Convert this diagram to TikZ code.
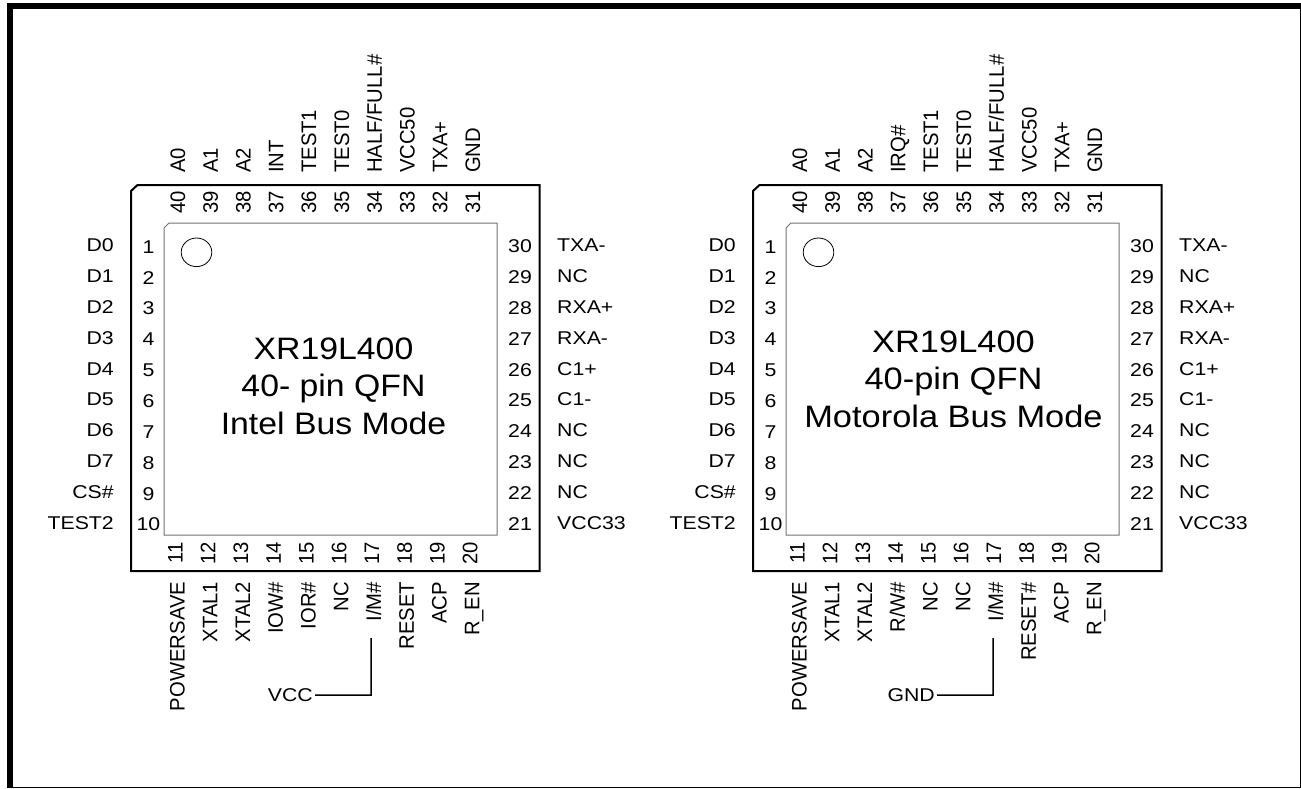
\documentclass[tikz,border=0pt]{standalone}
\usepackage{fontspec}
\setmainfont{Liberation Sans}
\usetikzlibrary{positioning}

\tikzset{
    pinhoriz/.style = {inner sep=0pt, font=\fontsize{18.5}{20}\selectfont, xscale=1.15, transform shape},
    pinvert/.style = {inner sep=0pt, font=\fontsize{21}{22}\selectfont, rotate=90, xscale=0.965, transform shape},
    chiptitle/.style = {inner sep=0pt, align=center, font=\fontsize{31}{37.5}\selectfont, transform shape},
    outline/.style = {draw, line width=2pt},
    padline/.style = {draw=black!55, line width=1pt}
}

\newcommand{\qfnchip}[7]{
    \begin{scope}[xshift=#1pt, name prefix=#2-]
        \draw [outline] (131,191) -- (137.5,185) -- (539.5,185) -- (539.5,571) -- (131,571) -- cycle;
        \draw [padline] (164,228) -- (169,223) -- (497,223) -- (497,535) -- (164,535) -- cycle;
        \draw [line width=0.8pt] (196.5,252.3) ellipse [x radius=15.3, y radius=14.3];
        \foreach \n/\t [evaluate=\n as \px using {185+32.8*(40-\n)}] in {#3} {
            \node [pinvert, anchor=base] (pin\n) at (\px,202.5) {\n};
            \node [pinvert, anchor=base west] (sig\n) at (\px,173) {\t};
        }
        \foreach \n/\t [evaluate=\n as \px using {184.5+32.75*(\n-11)}] in {#4} {
            \node [pinvert, anchor=base] (pin\n) at (\px-2,553) {\n};
            \node [pinvert, anchor=base east] (sig\n) at (\px,581.7) {\t};
        }
        \foreach \n/\t [evaluate=\n as \py using {251.7+30.85*(\n-1)}] in
            {1/D0,2/D1,3/D2,4/D3,5/D4,6/D5,7/D6,8/D7,9/CS\#,10/TEST2} {
            \node [pinhoriz, anchor=base] (pin\n) at (148.5,\py+1.5) {\n};
            \node [pinhoriz, anchor=base east] (sig\n) at (114,\py) {\t};
        }
        \foreach \n/\t [evaluate=\n as \py using {251.7+30.85*(30-\n)}] in
            {30/TXA-,29/NC,28/RXA+,27/RXA-,26/C1+,25/C1-,24/NC,23/NC,22/NC,21/VCC33} {
            \node [pinhoriz, anchor=base] (pin\n) at (520,\py+1) {\n};
            \node [pinhoriz, anchor=base west] (sig\n) at (557,\py) {\t};
        }
        \node [chiptitle, #5] (title) {#6};
        \coordinate (tiebend) at (371,695);
        \coordinate (tietop) at (371,638);
        \node [pinhoriz, anchor=base east] (tie) at (313,701.5) {#7};
        \draw [line width=1.5pt] (tie.east) ++(2,0) -- (tiebend) -- (tietop);
    \end{scope}
}

\begin{document}
\begin{tikzpicture}[x=1pt, y=-1pt]
    \useasboundingbox (0,0) rectangle (1301,788);
    \fill [white] (0,0) rectangle (1301,788);
    \draw [line width=5.5pt] (10,788) -- (10,6) -- (1301,6);
    \draw [line width=1pt] (7,787.3) -- (1300,787.3) -- (1300,6);
    \qfnchip{0}{intel}
        {40/A0,39/A1,38/A2,37/INT,36/TEST1,35/TEST0,34/{HALF/FULL\#},33/VCC50,32/TXA+,31/GND}
        {11/POWERSAVE,12/XTAL1,13/XTAL2,14/IOW\#,15/IOR\#,16/NC,17/{I/M\#},18/RESET,19/ACP,20/R\_EN}
        {xscale=1.09, at={(333.5,386)}}{XR19L400\\40- pin QFN\\Intel Bus Mode}{VCC}
    \qfnchip{622}{moto}
        {40/A0,39/A1,38/A2,37/IRQ\#,36/TEST1,35/TEST0,34/{HALF/FULL\#},33/VCC50,32/TXA+,31/GND}
        {11/POWERSAVE,12/XTAL1,13/XTAL2,14/{R/W\#},15/NC,16/NC,17/{I/M\#},18/RESET\#,19/ACP,20/R\_EN}
        {xscale=1.11, at={(331.5,379)}}{XR19L400\\40-pin QFN\\Motorola Bus Mode}{GND}
\end{tikzpicture}
\end{document}
